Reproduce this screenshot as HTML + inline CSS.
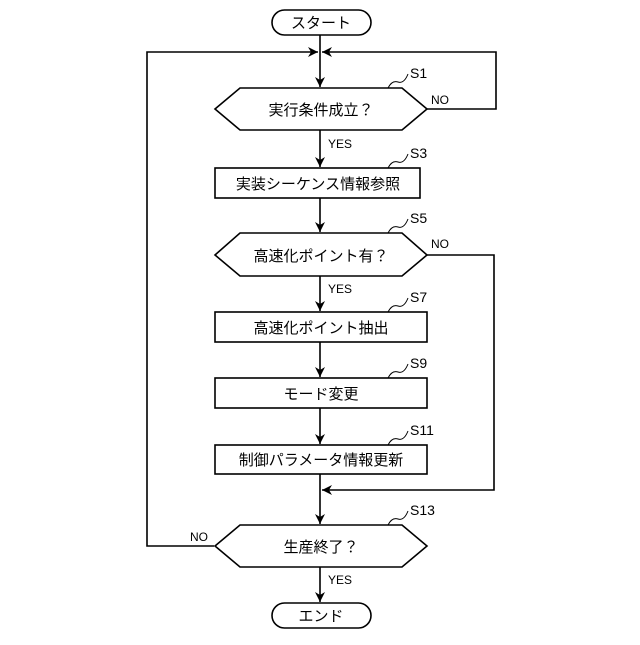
<!DOCTYPE html>
<html><head><meta charset="utf-8"><style>
html,body{margin:0;padding:0;background:#fff;}
svg text{font-family:"Liberation Sans","Noto Sans CJK JP",sans-serif;fill:#000;}
</style></head><body>
<svg width="640" height="640" viewBox="0 0 640 640" xmlns="http://www.w3.org/2000/svg">
<defs>
<marker id="a" markerWidth="10" markerHeight="10" refX="10" refY="5" orient="auto" markerUnits="userSpaceOnUse">
<path d="M0,0 L10,5 L0,10 L3,5 Z" fill="#000"/></marker>
</defs>
<g stroke="#000" stroke-width="1.6" fill="none">
<!-- start -->
<rect x="272" y="10" width="99" height="25" rx="12.5" fill="#fff"/>
<!-- main line start -> S1 -->
<line x1="320" y1="35" x2="320" y2="87" marker-end="url(#a)"/>
<!-- left loop -->
<polyline points="214,546 147,546 147,52 318,52" marker-end="url(#a)"/>
<!-- right loop -->
<polyline points="427,109 496,109 496,52 322,52" marker-end="url(#a)"/>
<!-- S1 hex -->
<polygon points="215,109 240,88 402,88 427,109 402,130 240,130" fill="#fff"/>
<line x1="320" y1="130" x2="320" y2="167" marker-end="url(#a)"/>
<rect x="215" y="168" width="205" height="30" fill="#fff"/>
<line x1="320" y1="198" x2="320" y2="232" marker-end="url(#a)"/>
<polygon points="215,255 240,233 402,233 427,255 402,276 240,276" fill="#fff"/>
<polyline points="427,255 494,255 494,490 322,490" marker-end="url(#a)"/>
<line x1="320" y1="276" x2="320" y2="311" marker-end="url(#a)"/>
<rect x="215" y="312" width="212" height="30" fill="#fff"/>
<line x1="320" y1="342" x2="320" y2="377" marker-end="url(#a)"/>
<rect x="215" y="378" width="212" height="30" fill="#fff"/>
<line x1="320" y1="408" x2="320" y2="444" marker-end="url(#a)"/>
<rect x="215" y="445" width="212" height="29" fill="#fff"/>
<line x1="320" y1="474" x2="320" y2="524" marker-end="url(#a)"/>
<polygon points="215,546 240,525 402,525 427,546 402,567 240,567" fill="#fff"/>
<line x1="320" y1="567" x2="320" y2="602" marker-end="url(#a)"/>
<rect x="272" y="603" width="99" height="25" rx="12.5" fill="#fff"/>
<!-- squiggles -->
<g stroke-width="1">
<path d="M388,88 q4,-8 10,-6 q6,2 10,-8"/>
<path d="M388,168 q4,-8 10,-6 q6,2 10,-8"/>
<path d="M388,233 q4,-8 10,-6 q6,2 10,-8"/>
<path d="M388,312 q4,-8 10,-6 q6,2 10,-8"/>
<path d="M388,378 q4,-8 10,-6 q6,2 10,-8"/>
<path d="M388,445 q4,-8 10,-6 q6,2 10,-8"/>
<path d="M388,525 q4,-8 10,-6 q6,2 10,-8"/>
</g>
</g>
<g font-size="15" text-anchor="middle">
<text x="321" y="28">スタート</text>
<text x="321" y="115">実行条件成立？</text>
<text x="318" y="189">実装シーケンス情報参照</text>
<text x="321" y="261">高速化ポイント有？</text>
<text x="321" y="333">高速化ポイント抽出</text>
<text x="321" y="399">モード変更</text>
<text x="321" y="465">制御パラメータ情報更新</text>
<text x="321" y="552">生産終了？</text>
<text x="321" y="621">エンド</text>
</g>
<g font-size="14">
<text x="410" y="78">S1</text>
<text x="410" y="158">S3</text>
<text x="410" y="223">S5</text>
<text x="410" y="302">S7</text>
<text x="410" y="368">S9</text>
<text x="410" y="435">S11</text>
<text x="410" y="515">S13</text>
</g>
<g font-size="12">
<text x="431" y="104">NO</text>
<text x="431" y="248">NO</text>
<text x="190" y="541">NO</text>
<text x="328" y="148">YES</text>
<text x="328" y="293">YES</text>
<text x="328" y="584">YES</text>
</g>
</svg>
</body></html>
